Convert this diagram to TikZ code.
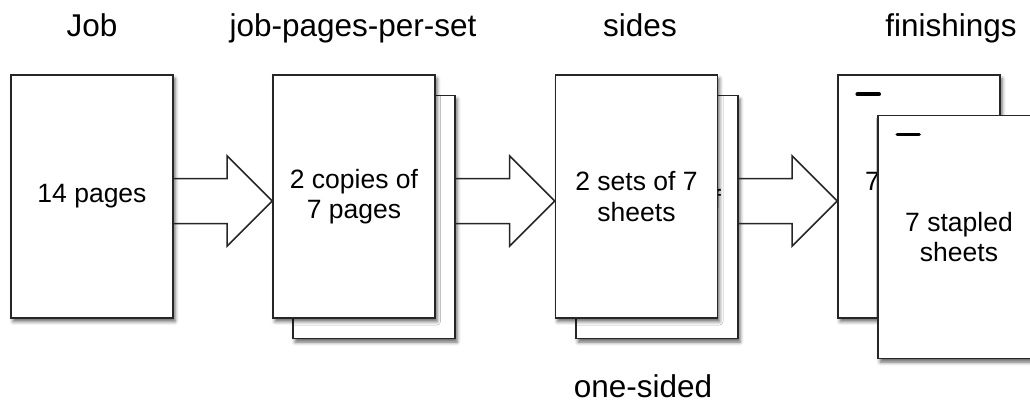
\documentclass[tikz,border=0pt]{standalone}
\usepackage{fontspec}
\setmainfont{Liberation Sans}
\usetikzlibrary{calc,shadows.blur}

% hollow block arrow from the right edge of #1 to the left edge of #2
\newcommand{\bigarrow}[2]{%
	\draw[flow] ($(#1.east |- mid)+(0,-22.5)$) -- ($(#2.west |- mid)+(-45,-22.5)$) -- ($(#2.west |- mid)+(-45,-45)$) -- (#2.west |- mid) -- ($(#2.west |- mid)+(-45,45)$) -- ($(#2.west |- mid)+(-45,22.5)$) -- ($(#1.east |- mid)+(0,22.5)$);}

\begin{document}
\begin{tikzpicture}[x=1pt,y=-1pt,
		page/.style={draw=black!85,line width=1.6pt,fill=white,minimum width=162pt,minimum height=243pt,inner sep=0pt,align=center,font=\fontsize{26.5}{30.5}\selectfont,blur shadow={shadow xshift=2pt,shadow yshift=-3.5pt,shadow blur radius=3.5pt,shadow opacity=60}},
		head/.style={font=\fontsize{31.5}{36}\selectfont,anchor=base},
		flow/.style={draw=black!85,line width=1.5pt,line join=miter},
		staple/.style={line width=3.5pt,line cap=round}]
				\useasboundingbox (0,0) rectangle (1030,402);
				\coordinate (mid) at (0,201);
				\node[head] (hjob) at (92,36) {Job};
				\node[head] (hpps) at (353,36) {job-pages-per-set};
				\node[head] (hsides) at (640,36) {sides};
				\node[head] (hfin) at (951,36) {finishings};
				\node[head] (honesided) at (643,397) {one-sided};
				\node[page] (p1) at (92,196.5) {14 pages};
				\node[page] (p2b) at (374,217) {};
				\node[page] (p2) at (354,196.5) {2 copies of\\7 pages};
				\node[page] (p3b) at (657,217) {2 copies of\\7 pages};
				\node[page] (p3) at (636.5,196.5) {2 sets of 7\\sheets};
				\node[page] (p4b) at (919,196.5) {7 stapled\\sheets};
				\draw[staple] ($(p4b.north west)+(20,20)$) -- +(22,0);
				\node[page] (p4) at (959,237) {7 stapled\\sheets};
				\draw[staple] ($(p4.north west)+(20,20)$) -- +(22,0);
				\bigarrow{p1}{p2}
				\bigarrow{p2b}{p3}
				\bigarrow{p3b}{p4b}
			\end{tikzpicture}
\end{document}
